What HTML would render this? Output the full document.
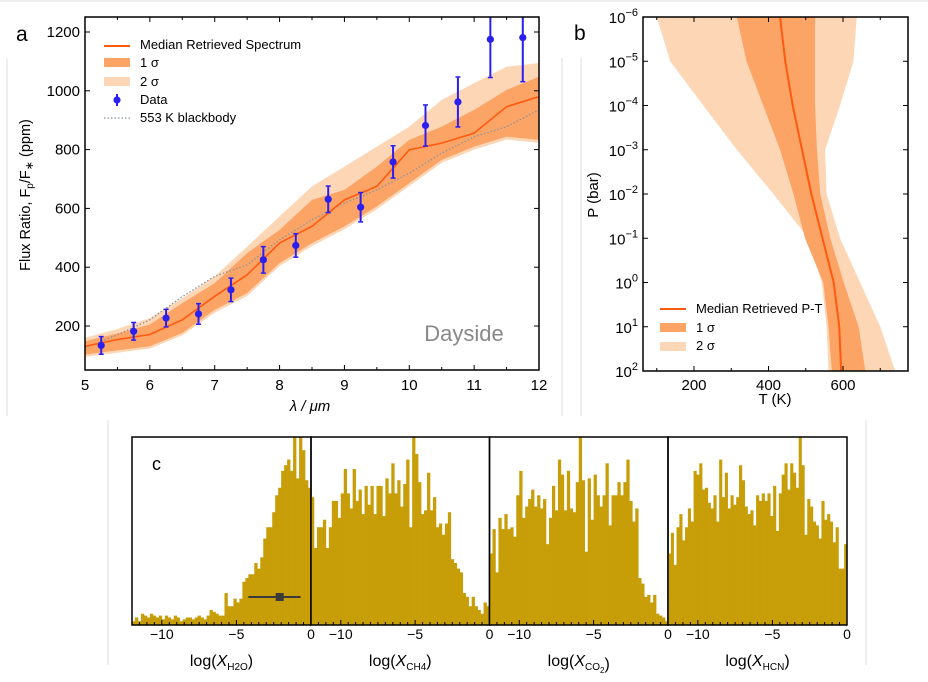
<!DOCTYPE html>
<html><head><meta charset="utf-8"><style>
html,body{margin:0;padding:0;background:#fff;}
svg{display:block;font-family:"Liberation Sans","DejaVu Sans",sans-serif;}
</style></head><body>
<svg id="fig" width="928" height="682" viewBox="0 0 928 682" xmlns="http://www.w3.org/2000/svg">
<g stroke="#ddd" stroke-width="1" fill="none">
<line x1="0" y1="1" x2="928" y2="1"/><line x1="7" y1="58" x2="7" y2="416"/><line x1="562" y1="58" x2="562" y2="416"/><line x1="581" y1="58" x2="581" y2="416"/><line x1="108" y1="420" x2="108" y2="665"/><line x1="866" y1="420" x2="866" y2="665"/>
</g>
<g id="pa"></g>
<g id="pb"></g>
<g id="pc"></g>
</svg>
<script>
// ---------- Panel a data ----------
const lam = [5,5.5,6,6.5,7,7.5,8,8.5,9,9.5,10,10.5,11,11.5,12];
const medianSpec = [131,154,171,221,301,374,482,539,629,675,799,822,856,946,980];
const sig1Lo = [103,117,131,176,255,312,414,482,539,607,686,765,810,844,833];
const sig1Hi = [148,175,205,278,346,448,527,629,663,742,833,878,935,1003,1048];
const sig2Lo = [95,109,123,168,245,302,404,472,529,597,676,755,800,834,823];
const sig2Hi = [160,190,227,295,369,470,573,675,742,810,878,969,1026,1082,1094];
const blackbody = [125,170,221,300,369,408,493,561,618,663,720,788,844,878,935];
const dataLam = [5.25,5.75,6.25,6.75,7.25,7.75,8.25,8.75,9.25,9.75,10.25,10.75,11.25,11.75];
const dataVal = [134,182,227,241,323,425,474,631,604,758,882,962,1175,1181];
const dataErr = [30,30,30,35,40,45,40,45,50,55,70,85,130,150];
const aXTicks = [5,6,7,8,9,10,11,12];
const aYTicks = [200,400,600,800,1000,1200];
// ---------- Panel b data ----------
const logP = [-6,-5,-4,-3,-2,-1,0,1,2];
const ptMedian = [431,445,465,490,515,545,575,590,595];
const pt1Lo = [315,341,386,431,467,498,547,561,570];
const pt1Hi = [525,525,525,530,539,566,602,642,660];
const pt2Lo = [100,136,225,315,413,507,543,556,561];
const pt2Hi = [637,628,592,552,556,592,646,700,740];
const bXTicks = [200,400,600];
const bYTicks = [-6,-5,-4,-3,-2,-1,0,1,2];
// ---------- Panel c data ----------
const histH2O = [0.02,0.04,0.02,0.06,0.05,0.04,0.06,0.05,0.04,0.05,0.03,0.05,0.04,0.03,0.05,0.04,0.02,0.03,0.04,0.04,0.03,0.04,0.05,0.04,0.03,0.05,0.08,0.07,0.06,0.05,0.05,0.17,0.10,0.10,0.14,0.12,0.14,0.23,0.25,0.27,0.27,0.33,0.30,0.36,0.46,0.52,0.52,0.60,0.69,0.73,0.82,0.85,0.88,0.82,1.0,0.78,1.0,0.93,0.77,0.73];
const histCH4 = [0.68,0.41,0.52,0.52,0.56,0.41,0.52,0.66,0.66,0.57,0.70,0.83,0.70,0.62,0.83,0.66,0.72,0.59,0.74,0.64,0.74,0.59,0.74,0.74,0.58,0.78,0.70,0.86,0.70,0.77,0.63,0.75,0.88,0.52,1.0,0.91,0.76,0.59,0.61,0.81,0.61,0.68,0.52,0.54,0.48,0.54,0.60,0.35,0.33,0.30,0.28,0.17,0.15,0.10,0.15,0.10,0.08,0.06,0.12,0.10];
const histCO2 = [0.38,0.51,0.28,0.57,0.51,0.59,0.51,0.52,0.47,0.69,0.82,0.57,0.63,0.67,0.72,0.63,0.69,0.62,0.67,0.43,0.57,0.74,0.61,0.88,0.80,0.61,0.82,0.62,0.60,0.76,1.0,0.77,0.39,0.78,0.56,0.80,0.69,0.63,0.69,0.86,0.53,0.69,0.69,0.76,0.69,0.76,0.88,0.66,0.55,0.62,0.25,0.22,0.15,0.16,0.12,0.16,0.06,0.05,0.04,0.02];
const histHCN = [0.38,0.49,0.32,0.52,0.59,0.45,0.52,0.62,0.55,0.82,0.80,0.86,0.72,0.73,0.65,0.62,0.69,0.55,0.88,0.68,0.81,0.62,0.69,0.64,0.68,0.85,0.77,0.63,0.59,0.61,0.53,0.69,0.66,0.70,0.66,0.70,0.58,0.74,0.50,0.70,0.80,0.86,0.72,0.86,0.81,0.73,1.0,0.85,0.48,0.67,0.63,0.55,0.53,0.46,0.66,0.56,0.59,0.55,0.44,0.52,0.30,0.30,0.43];
const cXTicks = [-10,-5,0];
const h2oErr = {lo:-4.2, mid:-2.1, hi:-0.7};

const NS='http://www.w3.org/2000/svg';
function mk(parent,tag,attrs,text){const e=document.createElementNS(NS,tag);for(const k in attrs)e.setAttribute(k,attrs[k]);if(text!==undefined)e.textContent=text;parent.appendChild(e);return e;}

// ===== Panel a =====
const pa=document.getElementById('pa');
const aL=85,aR=539,aT=17,aB=370;
const ax=v=>aL+(v-5)*(aR-aL)/7;
const ay=v=>326-(v-200)*0.294;
function band(lo,hi,xs,fx,fy){let d='M'+xs.map((x,i)=>fx(x)+','+fy(hi[i])).join('L');for(let i=xs.length-1;i>=0;i--)d+='L'+fx(xs[i])+','+fy(lo[i]);return d+'Z';}
const clipA=mk(pa,'clipPath',{id:'clipA'});mk(clipA,'rect',{x:aL,y:aT,width:aR-aL,height:aB-aT});
const ga=mk(pa,'g',{'clip-path':'url(#clipA)'});
let e;
e=mk(ga,'path',{d:band(sig2Lo,sig2Hi,lam,ax,ay),fill:'#fdd6b5'});


e=mk(ga,'path',{d:band(sig1Lo,sig1Hi,lam,ax,ay),fill:'#fca466'});


e=mk(ga,'path',{d:'M'+lam.map((x,i)=>ax(x)+','+ay(blackbody[i])).join('L'),fill:'none',stroke:'#8a93a0','stroke-width':1.3,'stroke-dasharray':'1.5,2'});


e=mk(ga,'path',{d:'M'+lam.map((x,i)=>ax(x)+','+ay(medianSpec[i])).join('L'),fill:'none',stroke:'#ff5a10','stroke-width':1.6});


dataLam.forEach((l,i)=>{const g=mk(ga,'g',{});


const x=ax(l);mk(g,'line',{x1:x,x2:x,y1:ay(dataVal[i]-dataErr[i]),y2:ay(dataVal[i]+dataErr[i]),stroke:'#2b1ff0','stroke-width':2});
mk(g,'line',{x1:x-2.5,x2:x+2.5,y1:ay(dataVal[i]-dataErr[i]),y2:ay(dataVal[i]-dataErr[i]),stroke:'#2b1ff0','stroke-width':1.5});
mk(g,'line',{x1:x-2.5,x2:x+2.5,y1:ay(dataVal[i]+dataErr[i]),y2:ay(dataVal[i]+dataErr[i]),stroke:'#2b1ff0','stroke-width':1.5});
mk(g,'circle',{cx:x,cy:ay(dataVal[i]),r:3.6,fill:'#2b1ff0'});});
e=mk(pa,'rect',{x:aL,y:aT,width:aR-aL,height:aB-aT,fill:'none',stroke:'#000','stroke-width':1.5});


for(let v=5;v<=12.001;v+=0.5){const x=ax(v),L=(Math.abs(v-Math.round(v))<0.01)?5:3;mk(pa,'line',{x1:x,x2:x,y1:aB,y2:aB-L,stroke:'#000','stroke-width':1});mk(pa,'line',{x1:x,x2:x,y1:aT,y2:aT+L,stroke:'#000','stroke-width':1});}
aXTicks.forEach(v=>{e=mk(pa,'text',{x:ax(v),y:390,'font-size':15,'text-anchor':'middle'},v);

});
aYTicks.forEach(v=>{const y=ay(v);mk(pa,'line',{x1:aL,x2:aL+5,y1:y,y2:y,stroke:'#000'});mk(pa,'line',{x1:aR,x2:aR-5,y1:y,y2:y,stroke:'#000'});
e=mk(pa,'text',{x:80,y:y+5,'font-size':15,'text-anchor':'end'},v);

});
e=mk(pa,'text',{x:310,y:411,'font-size':15,'text-anchor':'middle','font-style':'italic'},'λ / μm');


e=mk(pa,'text',{x:0,y:0,'font-size':14.5,'text-anchor':'middle',transform:'translate(30,195) rotate(-90)'});


e.innerHTML='Flux Ratio,  F<tspan font-size="10" dy="3">p</tspan><tspan dy="-3">/F</tspan><tspan font-size="11" dy="3">∗</tspan><tspan dy="-3">  (ppm)</tspan>';
e=mk(pa,'text',{x:464,y:341,'font-size':22,fill:'#888','text-anchor':'middle'},'Dayside');


e=mk(pa,'text',{x:16,y:41,'font-size':21},'a');


const lgA=mk(pa,'g',{});


mk(lgA,'line',{x1:104,x2:130,y1:46,y2:46,stroke:'#ff5a10','stroke-width':2});
mk(lgA,'rect',{x:104,y:58,width:26,height:9,fill:'#fca466'});
mk(lgA,'rect',{x:104,y:77,width:26,height:9,fill:'#fdd6b5'});
mk(lgA,'line',{x1:117,x2:117,y1:94,y2:106,stroke:'#2b1ff0','stroke-width':2});mk(lgA,'circle',{cx:117,cy:100,r:3.6,fill:'#2b1ff0'});
mk(lgA,'line',{x1:104,x2:130,y1:118,y2:118,stroke:'#8a93a0','stroke-width':1.3,'stroke-dasharray':'1.5,2'});
[['Median Retrieved Spectrum',49],['1 σ',67],['2 σ',86],['Data',104],['553 K blackbody',122]].forEach(t=>{e=mk(lgA,'text',{x:140,y:t[1],'font-size':13},t[0]);

});

// ===== Panel b =====
const pb=document.getElementById('pb');
const bL=643,bR=908,bT=17,bB=371;
const bx=v=>694+(v-200)*0.3725;
const by=v=>bT+(v+6)*(bB-bT)/8;
function hband(lo,hi){let d='M'+logP.map((p,i)=>bx(lo[i])+','+by(p)).join('L');for(let i=logP.length-1;i>=0;i--)d+='L'+bx(hi[i])+','+by(logP[i]);return d+'Z';}
e=mk(pb,'path',{d:hband(pt2Lo,pt2Hi),fill:'#fdd6b5'});


e=mk(pb,'path',{d:hband(pt1Lo,pt1Hi),fill:'#fca466'});


e=mk(pb,'path',{d:'M'+logP.map((p,i)=>bx(ptMedian[i])+','+by(p)).join('L'),fill:'none',stroke:'#ff5a10','stroke-width':2});


e=mk(pb,'rect',{x:bL,y:bT,width:bR-bL,height:bB-bT,fill:'none',stroke:'#000','stroke-width':1.5});


for(let v=100;v<=700;v+=100){const x=bx(v),L=(v%200===0)?5:3;mk(pb,'line',{x1:x,x2:x,y1:bB,y2:bB-L,stroke:'#000'});mk(pb,'line',{x1:x,x2:x,y1:bT,y2:bT+L,stroke:'#000'});}
bXTicks.forEach(v=>{e=mk(pb,'text',{x:bx(v),y:390,'font-size':15,'text-anchor':'middle'},v);

});
bYTicks.forEach(v=>{const y=by(v);mk(pb,'line',{x1:bL,x2:bL+5,y1:y,y2:y,stroke:'#000'});mk(pb,'line',{x1:bR,x2:bR-5,y1:y,y2:y,stroke:'#000'});
e=mk(pb,'text',{x:638,y:y+6,'font-size':15,'text-anchor':'end'});


e.innerHTML='10<tspan font-size="11" dy="-7">'+(v<0?'−'+(-v):v)+'</tspan>';});
e=mk(pb,'text',{x:775,y:404,'font-size':15,'text-anchor':'middle'},'T (K)');


e=mk(pb,'text',{x:0,y:0,'font-size':15,'text-anchor':'middle',transform:'translate(598,195) rotate(-90)'},'P (bar)');


e=mk(pb,'text',{x:574,y:40,'font-size':21},'b');


const lgB=mk(pb,'g',{});


mk(lgB,'line',{x1:660,x2:686,y1:309,y2:309,stroke:'#ff5a10','stroke-width':2});
mk(lgB,'rect',{x:660,y:323,width:26,height:9,fill:'#fca466'});
mk(lgB,'rect',{x:660,y:342,width:26,height:9,fill:'#fdd6b5'});
[['Median Retrieved P-T',313],['1 σ',332],['2 σ',350]].forEach(t=>{e=mk(lgB,'text',{x:696,y:t[1],'font-size':13},t[0]);

});

// ===== Panel c =====
const pc=document.getElementById('pc');
const cT=437,cB=625;
const cEdges=[132,311,489.5,668,847];
const hists=[histH2O,histCH4,histCO2,histHCN];
const hnames=['h2o','ch4','co2','hcn'];
const labs=['H2O','CH4','CO<tspan font-size="8" dy="3">2</tspan>','HCN'];
hists.forEach((h,k)=>{
  const L=cEdges[k],R=cEdges[k+1];
  const cx=v=>L+(v+12)*(R-L)/12;
  const bw=(R-L)/h.length;
  const g=mk(pc,'g',{});
  
  
  h.forEach((v,i)=>{const hh=v*(cB-cT);const r=mk(g,'rect',{x:L+i*bw,y:cB-hh,width:bw+0.3,height:hh,fill:'#c89e08'});
    
    });
  for(let v=-12;v<=0.001;v+=0.5){const x=cx(v),tl=(Math.abs(v%5)<0.01)?5:3;mk(pc,'line',{x1:x,x2:x,y1:cB,y2:cB-tl,stroke:'#000'});}
  cXTicks.forEach(v=>{const t=mk(pc,'text',{x:cx(v),y:639,'font-size':14,'text-anchor':'middle'},v===0?'0':'−'+(-v));
    
    });
  const t=mk(pc,'text',{x:(L+R)/2,y:666,'font-size':16,'text-anchor':'middle'});
  
  
  t.innerHTML='log(<tspan font-style="italic">X</tspan><tspan font-size="10" dy="4">'+labs[k]+'</tspan><tspan dy="-4">)</tspan>';
  if(k===0){
    const eg=mk(pc,'g',{});
    
    
    mk(eg,'line',{x1:cx(h2oErr.lo),x2:cx(h2oErr.hi),y1:597,y2:597,stroke:'#3a3a3a','stroke-width':2});
    mk(eg,'rect',{x:cx(h2oErr.mid)-4,y:593,width:8,height:8,fill:'#3a3a3a'});
  }
  const fr=mk(pc,'rect',{x:L,y:cT,width:R-L,height:cB-cT,fill:'none',stroke:'#000','stroke-width':1.5});
  
  
});
e=mk(pc,'text',{x:152,y:470,'font-size':18},'c');


</script>
</body></html>
